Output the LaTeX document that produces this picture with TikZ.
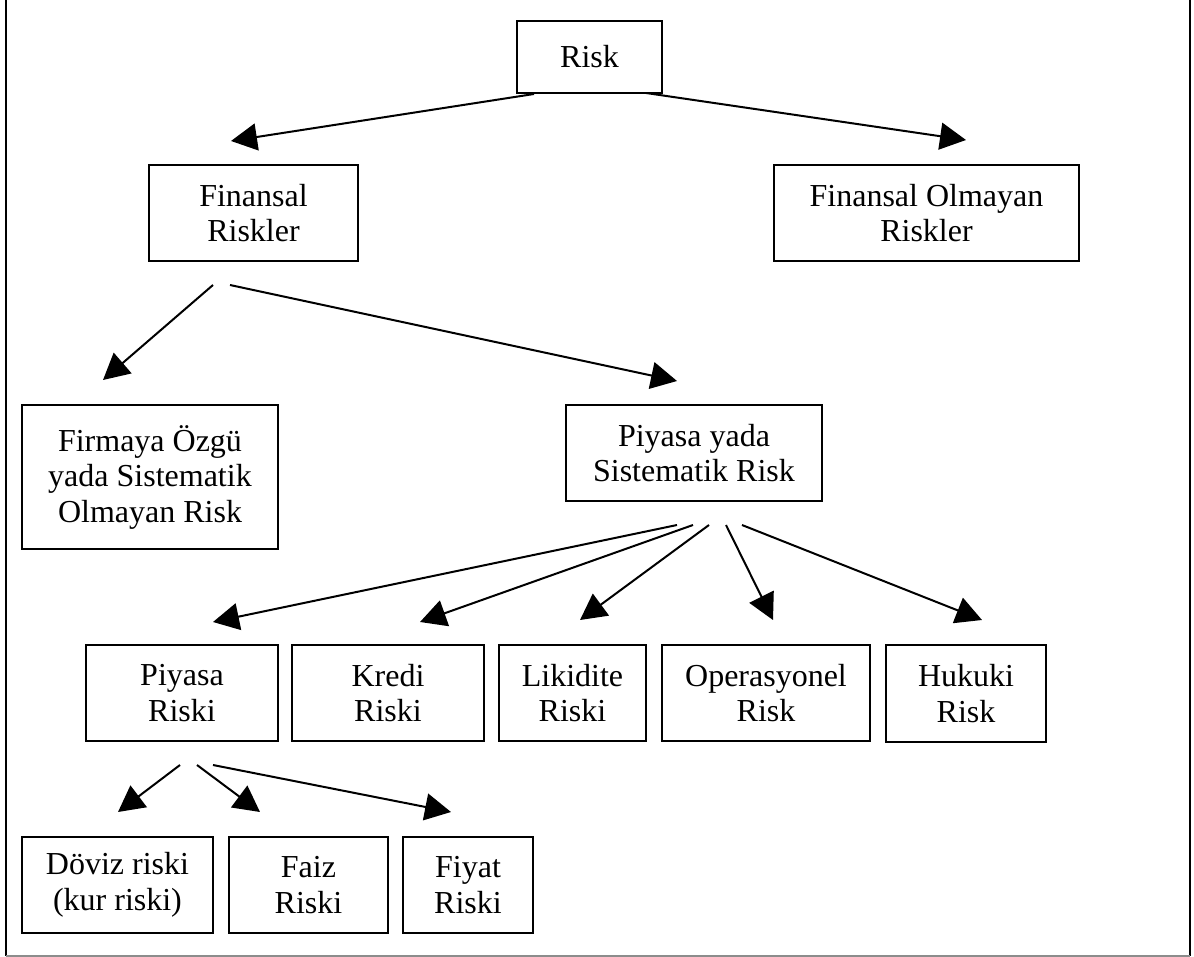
\documentclass[tikz,border=0pt]{standalone}
\usepackage{fontspec}
\setmainfont{Liberation Serif}
\usetikzlibrary{arrows.meta}
\begin{document}
\begin{tikzpicture}[x=1pt,y=-1pt,
  riskbox/.style={draw, line width=2pt, inner sep=0pt, align=center,
    font=\fontsize{32}{35.5}\selectfont},
  link/.style={line width=2pt, -{Triangle[length=26pt,width=27pt]}}]
\useasboundingbox (0,0) rectangle (1194,957);
% outer frame (open at the top)
\draw[line width=2pt] (6,0) -- (6,956);
\draw[line width=2pt] (1190,0) -- (1190,956);
\draw[line width=1.5pt, black!45] (6,956) -- (1190,956);

% boxes
\node[riskbox, minimum width=145pt, minimum height=72pt]  (risk)   at (589.5,57)  {Risk};
\node[riskbox, minimum width=209pt, minimum height=96pt]  (fin)    at (253.5,213) {Finansal\\Riskler};
\node[riskbox, minimum width=305pt, minimum height=96pt]  (nonfin) at (926.5,213) {Finansal Olmayan\\Riskler};
\node[riskbox, minimum width=256pt, minimum height=144pt] (firm)   at (150,477)   {Firmaya Özgü\\yada Sistematik\\Olmayan Risk};
\node[riskbox, minimum width=256pt, minimum height=96pt]  (sys)    at (694,453)   {Piyasa yada\\Sistematik Risk};
\node[riskbox, minimum width=192pt, minimum height=96pt]  (mkt)    at (182,693)   {Piyasa\\Riski};
\node[riskbox, minimum width=192pt, minimum height=96pt]  (kredi)  at (388,693)   {Kredi\\Riski};
\node[riskbox, minimum width=147pt, minimum height=96pt]  (lik)    at (572.5,693) {Likidite\\Riski};
\node[riskbox, minimum width=208pt, minimum height=96pt]  (ops)    at (766,693)   {Operasyonel\\Risk};
\node[riskbox, minimum width=160pt, minimum height=97pt]  (huk)    at (966,693.5) {Hukuki\\Risk};
\node[riskbox, minimum width=191pt, minimum height=96pt]  (doviz)  at (117.5,885) {Döviz riski\\(kur riski)};
\node[riskbox, minimum width=159pt, minimum height=96pt]  (faiz)   at (308.5,885) {Faiz\\Riski};
\node[riskbox, minimum width=130pt, minimum height=96pt]  (fiyat)  at (468,885)   {Fiyat\\Riski};

% free arrow ends
\coordinate (risk-a)  at (534,94);   \coordinate (fin-in)    at (231,141);
\coordinate (risk-b)  at (646,93);   \coordinate (nonfin-in) at (966,140);
\coordinate (fin-a)   at (213,285);  \coordinate (firm-in)   at (103,380);
\coordinate (fin-b)   at (230,285);  \coordinate (sys-in)    at (677,381);
\coordinate (sys-a)   at (677,525);  \coordinate (mkt-in)    at (213,622);
\coordinate (sys-b)   at (693,525);  \coordinate (kredi-in)  at (420,622);
\coordinate (sys-c)   at (709,525);  \coordinate (lik-in)    at (580,620);
\coordinate (sys-d)   at (726,525);  \coordinate (ops-in)    at (773,620);
\coordinate (sys-e)   at (742,525);  \coordinate (huk-in)    at (982,620);
\coordinate (mkt-a)   at (180,765);  \coordinate (doviz-in)  at (118,812);
\coordinate (mkt-b)   at (197,765);  \coordinate (faiz-in)   at (260,812);
\coordinate (mkt-c)   at (213,765);  \coordinate (fiyat-in)  at (451,812);

% arrows
\draw[link] (risk-a) -- (fin-in);
\draw[link] (risk-b) -- (nonfin-in);
\draw[link] (fin-a) -- (firm-in);
\draw[link] (fin-b) -- (sys-in);
\draw[link] (sys-a) -- (mkt-in);
\draw[link] (sys-b) -- (kredi-in);
\draw[link] (sys-c) -- (lik-in);
\draw[link] (sys-d) -- (ops-in);
\draw[link] (sys-e) -- (huk-in);
\draw[link] (mkt-a) -- (doviz-in);
\draw[link] (mkt-b) -- (faiz-in);
\draw[link] (mkt-c) -- (fiyat-in);
\end{tikzpicture}
\end{document}
